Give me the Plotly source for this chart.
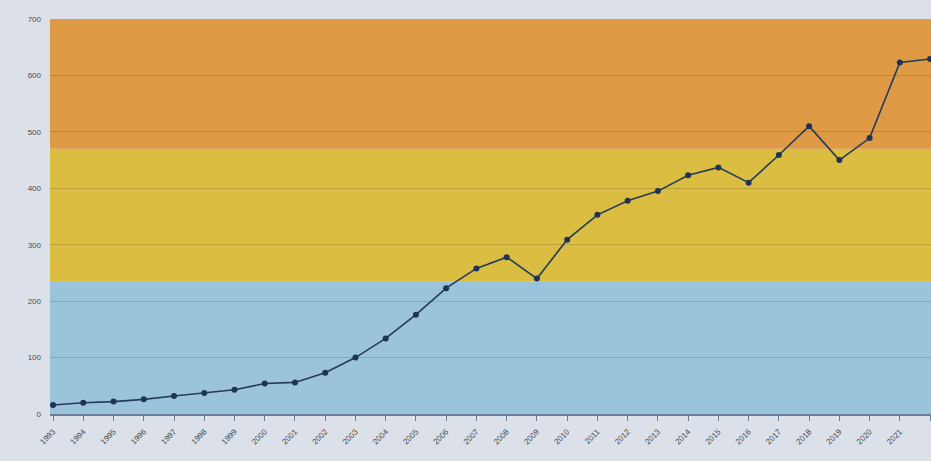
import plotly.graph_objects as go

years = list(range(1993, 2023))
values = [16, 20, 22, 26, 32, 37, 43, 54, 56, 73, 100, 134, 176, 223, 258,
          278, 240, 309, 353, 378, 395, 423, 437, 410, 459, 510, 450, 489, 623, 629]
y_ticks = [0, 100, 200, 300, 400, 500, 600, 700]
band_edges = [0, 235, 470, 700]
band_colors = ["#9CC3DC", "#DBBD42", "#DF9A45"]

fig = go.Figure()
for i, col in enumerate(band_colors):
    fig.add_shape(type="rect", xref="paper", yref="y", x0=0, x1=1,
                  y0=band_edges[i], y1=band_edges[i + 1],
                  fillcolor=col, line_width=0, layer="below")

fig.add_trace(go.Scatter(
    x=years, y=values, mode="lines+markers",
    line=dict(color="#233B5C", width=1.6),
    marker=dict(color="#1E3355", size=6),
    showlegend=False,
))

fig.update_layout(
    width=931, height=461,
    margin=dict(l=50, r=0, t=19, b=47),
    paper_bgcolor="#DCE1E9",
    plot_bgcolor="rgba(0,0,0,0)",
    font=dict(family="Liberation Sans, Arial", size=8, color="#454B55"),
)
fig.update_xaxes(
    range=[1992.9, 2022.03], tickmode="array", tickvals=years,
    ticktext=[str(y) for y in years], tickangle=-45,
    showgrid=False, showline=True, linecolor="#6A7F96", linewidth=2,
    ticks="outside", ticklen=5, tickcolor="#6A7F96", zeroline=False,
    ticklabelstandoff=3,
)
fig.update_yaxes(
    range=[0, 700], tickmode="array", tickvals=y_ticks,
    showgrid=True, gridcolor="rgba(80,60,40,0.22)", gridwidth=1,
    zeroline=False, showline=False, ticks="", ticklabelstandoff=8,
)

fig.write_html("out.html")
